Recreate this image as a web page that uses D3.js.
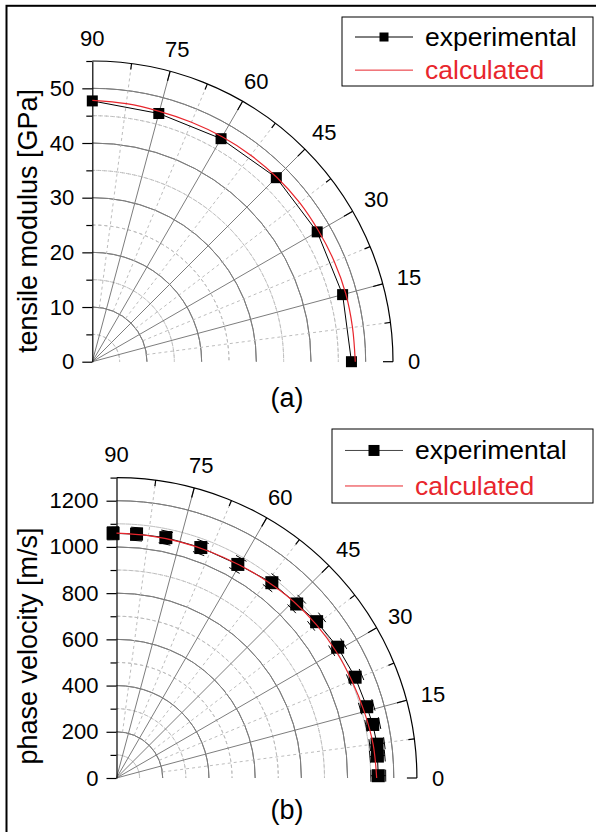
<!DOCTYPE html>
<html>
<head>
<meta charset="utf-8">
<script src="https://cdn.jsdelivr.net/npm/d3@7"></script>
<style>
  body { margin: 0; background: #fff; }
  svg text { font-family: "Liberation Sans", Arial, sans-serif; }
</style>
</head>
<body>
<script>

// (a) tensile modulus vs angle
const modAngles = [90, 75, 60, 45, 30, 15, 0];
const modExp = [47.7, 47.0, 47.1, 47.6, 47.5, 47.4, 47.4];
const modCalcAngles = [90, 82.5, 75, 67.5, 60, 52.5, 45, 37.5, 30, 22.5, 15, 7.5, 0];
const modCalc = [47.8, 47.6, 47.4, 47.4, 47.5, 47.6, 47.7, 47.8, 47.8, 47.9, 48.0, 48.0, 48.1];
const modTicks = [0, 10, 20, 30, 40, 50];

// (b) phase velocity vs angle
const velAngles = [90.8, 85.3, 78.4, 69.9, 60.4, 51.5, 44.0, 38.0, 30.6, 22.9, 15.9, 11.8, 7.4, 4.8, 0.5];
const velExp = [1059, 1059, 1062, 1062, 1063, 1080, 1084, 1099, 1112, 1121, 1126, 1133, 1137, 1133, 1133];
const velErr = [28, 28, 28, 28, 30, 30, 30, 30, 30, 30, 30, 30, 32, 32, 32];
const velCalcAngles = [90, 82.5, 75, 67.5, 60, 52.5, 45, 37.5, 30, 22.5, 15, 7.5, 0];
const velCalc = [1060, 1058, 1058, 1060, 1064, 1072, 1082, 1090, 1097, 1102, 1110, 1120, 1126];
const velTicks = [0, 200, 400, 600, 800, 1000, 1200];

const angleTicks = [0, 15, 30, 45, 60, 75, 90];
const legendNames = ["experimental", "calculated"];

const width = 596, height = 832;
const red = "#e8262d";
const gridDark = "#7d7d7d", gridLight = "#bdbdbd";

const svg = d3.select("body").append("svg")
    .attr("width", width)
    .attr("height", height);

// outer frame
svg.append("rect")
    .attr("x", 6.5).attr("y", 5.8)
    .attr("width", 620).attr("height", 860)
    .attr("fill", "none")
    .attr("stroke", "#000")
    .attr("stroke-width", 2);

function drawPanel(o) {
  const g = svg.append("g");
  const r = d3.scaleLinear().domain([0, o.max]).range([0, o.R]);
  const rad = d => d * Math.PI / 180;
  const px = (a, v) => o.cx + r(v) * Math.cos(rad(a));
  const py = (a, v) => o.cy - r(v) * Math.sin(rad(a));
  const arc = d3.arc().startAngle(0).endAngle(Math.PI / 2);

  // circular grid, solid at majors, dashed in between
  const rings = d3.range(o.minor, o.max, o.minor);
  g.selectAll(".ring").data(rings).enter().append("path")
      .attr("transform", `translate(${o.cx},${o.cy})`)
      .attr("d", d => arc({innerRadius: r(d), outerRadius: r(d)}))
      .attr("fill", "none")
      .attr("stroke", d => Math.round(d / o.minor) % 2 === 0 ? gridDark : gridLight)
      .attr("stroke-dasharray", d => Math.round(d / o.minor) % 2 === 0 ? null : "3,3")
      .attr("stroke-width", 1);

  // radial grid
  const minorSpokes = d3.range(7.5, 90, 15);
  g.selectAll(".spokeMinor").data(minorSpokes).enter().append("line")
      .attr("x1", d => px(d, o.major)).attr("y1", d => py(d, o.major))
      .attr("x2", d => px(d, o.max)).attr("y2", d => py(d, o.max))
      .attr("stroke", gridLight).attr("stroke-dasharray", "3,3");
  g.selectAll(".spoke").data([15, 30, 45, 60, 75]).enter().append("line")
      .attr("x1", o.cx).attr("y1", o.cy)
      .attr("x2", d => px(d, o.max)).attr("y2", d => py(d, o.max))
      .attr("stroke", gridDark);

  // outer arc and its ticks
  g.append("path")
      .attr("transform", `translate(${o.cx},${o.cy})`)
      .attr("d", arc({innerRadius: o.R, outerRadius: o.R}))
      .attr("fill", "none").attr("stroke", "#000").attr("stroke-width", 1.2);
  const arcTicks = d3.range(0, 90, 7.5);
  g.selectAll(".atick").data(arcTicks).enter().append("line")
      .attr("x1", d => o.cx + (o.R - (d % 15 === 0 ? 10 : 6)) * Math.cos(rad(d)))
      .attr("y1", d => o.cy - (o.R - (d % 15 === 0 ? 10 : 6)) * Math.sin(rad(d)))
      .attr("x2", d => px(d, o.max)).attr("y2", d => py(d, o.max))
      .attr("stroke", "#000").attr("stroke-width", 1.2);

  // angle labels
  g.selectAll(".alabel").data(angleTicks).enter().append("text")
      .attr("font-size", 22)
      .attr("text-anchor", "middle")
      .attr("dominant-baseline", "central")
      .text(d => d)
      .each(function(d) {
        const w = this.getComputedTextLength();
        const a = rad(d), gap = o.R + 15;
        d3.select(this)
          .attr("x", o.cx + gap * Math.cos(a) + Math.cos(a) * w / 2)
          .attr("y", o.cy - gap * Math.sin(a) - Math.sin(a) * 8);
      });

  // radial (y) axis
  const y = d3.scaleLinear().domain([0, o.max]).range([o.cy, o.cy - o.R]);
  const yAxis = g.append("g")
      .attr("transform", `translate(${o.cx},0)`)
      .call(d3.axisLeft(y).tickValues(o.ticks).tickFormat(d3.format("d"))
        .tickSize(10).tickPadding(8).tickSizeOuter(0));
  g.append("g")
      .attr("transform", `translate(${o.cx},0)`)
      .call(d3.axisLeft(y).tickValues(d3.range(o.minor, o.max + 1, o.major)).tickSize(6).tickFormat("").tickSizeOuter(0))
      .select(".domain").remove();
  yAxis.selectAll("text").attr("font-size", 22).attr("fill", "#000").attr("font-family", null);
  yAxis.selectAll("line, path").attr("stroke", "#000").attr("stroke-width", 1.2);
  g.selectAll(".tick line").attr("stroke", "#000").attr("stroke-width", 1.2);

  g.append("text")
      .attr("transform", `translate(${o.titleX},${o.titleY}) rotate(-90)`)
      .attr("text-anchor", "middle")
      .attr("font-size", 27)
      .text(o.title);

  // calculated curve
  const calcPts = o.calcAngles.map((a, i) => [px(a, o.calc[i]), py(a, o.calc[i])]);
  // experimental line
  const expPts = o.angles.map((a, i) => [px(a, o.exp[i]), py(a, o.exp[i])]);
  g.append("path")
      .attr("d", d3.line()(expPts))
      .attr("fill", "none").attr("stroke", "#000").attr("stroke-width", 1);

  // error bars
  if (o.err) {
    o.angles.forEach((a, i) => {
      const c = Math.cos(rad(a)), s = Math.sin(rad(a));
      const lo = o.exp[i] - o.err[i], hi = o.exp[i] + o.err[i];
      g.append("line")
          .attr("x1", px(a, lo)).attr("y1", py(a, lo))
          .attr("x2", px(a, hi)).attr("y2", py(a, hi))
          .attr("stroke", "#000");
      [lo, hi].forEach(v => {
        g.append("line")
            .attr("x1", px(a, v) - 6 * s).attr("y1", py(a, v) - 6 * c)
            .attr("x2", px(a, v) + 6 * s).attr("y2", py(a, v) + 6 * c)
            .attr("stroke", "#000");
      });
    });
  }

  g.selectAll(".marker").data(expPts).enter().append("rect")
      .attr("x", d => d[0] - o.ms / 2).attr("y", d => d[1] - o.ms / 2)
      .attr("width", o.ms).attr("height", o.ms)
      .attr("fill", "#000");

  g.append("path")
      .attr("d", d3.line().curve(d3.curveCatmullRom)(calcPts))
      .attr("fill", "none").attr("stroke", red).attr("stroke-width", 1.2);

  // panel label
  g.append("text")
      .attr("x", 287).attr("y", o.labelY)
      .attr("text-anchor", "middle").attr("dominant-baseline", "central")
      .attr("font-size", 27)
      .text(o.label);

  // legend
  const lg = g.append("g");
  lg.append("rect")
      .attr("x", o.legX).attr("y", o.legY)
      .attr("width", 593 - o.legX).attr("height", o.legH)
      .attr("fill", "#fff").attr("stroke", "#000").attr("stroke-width", 1);
  const rows = [o.legY + o.legH * 0.29, o.legY + o.legH * 0.77];
  lg.append("line")
      .attr("x1", o.legX + 13).attr("x2", o.legX + 71)
      .attr("y1", rows[0]).attr("y2", rows[0])
      .attr("stroke", o.legLine).attr("stroke-width", 1);
  lg.append("rect")
      .attr("x", o.legX + 42 - o.ms / 2 + 1).attr("y", rows[0] - o.ms / 2 + 1)
      .attr("width", o.ms - 2).attr("height", o.ms - 2).attr("fill", "#000");
  lg.append("line")
      .attr("x1", o.legX + 13).attr("x2", o.legX + 71)
      .attr("y1", rows[1]).attr("y2", rows[1])
      .attr("stroke", red).attr("stroke-width", 1);
  lg.selectAll(".ltext").data(legendNames).enter().append("text")
      .attr("x", o.legX + 83)
      .attr("y", (d, i) => rows[i])
      .attr("dominant-baseline", "central")
      .attr("font-size", 26.5)
      .attr("fill", (d, i) => i === 0 ? "#000" : red)
      .text(d => d);
}

drawPanel({
  cx: 92.3, cy: 361.7, R: 300.7, max: 55, major: 10, minor: 5,
  ticks: modTicks, angles: modAngles, exp: modExp,
  calcAngles: modCalcAngles, calc: modCalc, ms: 11,
  title: "tensile modulus [GPa]", titleX: 37, titleY: 221,
  label: "(a)", labelY: 398,
  legX: 342, legY: 17, legH: 69, legLine: "#000"
});

drawPanel({
  cx: 116.5, cy: 778, R: 300.4, max: 1300, major: 200, minor: 100,
  ticks: velTicks, angles: velAngles, exp: velExp, err: velErr,
  calcAngles: velCalcAngles, calc: velCalc, ms: 13,
  title: "phase velocity [m/s]", titleX: 37, titleY: 646,
  label: "(b)", labelY: 810,
  legX: 332, legY: 429, legH: 74, legLine: "#444"
});

</script>
</body>
</html>
